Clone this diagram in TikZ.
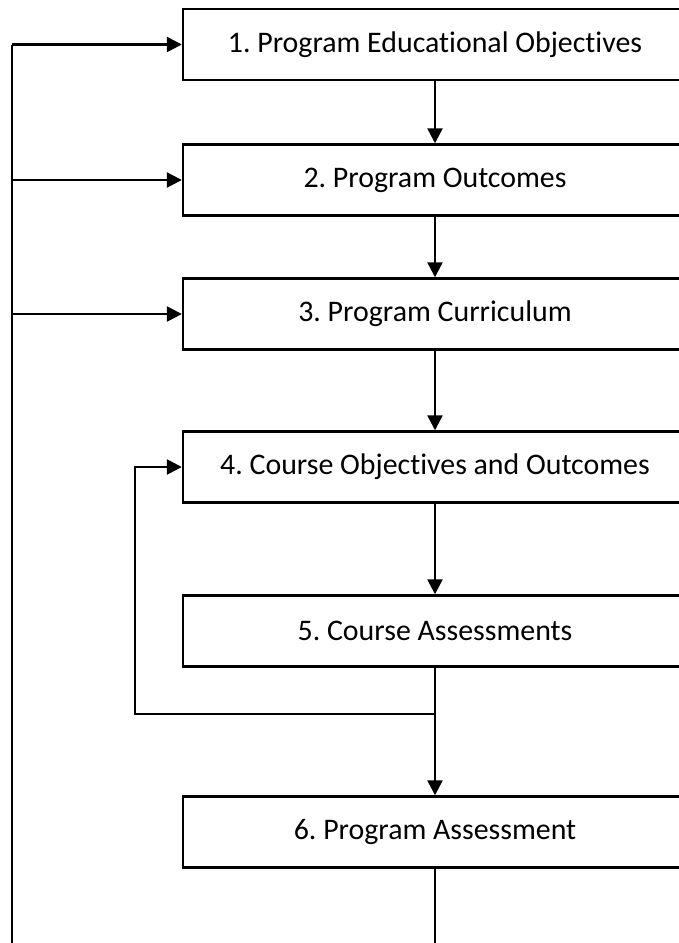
\documentclass[tikz,border=0pt]{standalone}
\usepackage{fontspec}
\setmainfont[Ligatures=NoCommon]{Carlito}
\usetikzlibrary{arrows.meta}
\frenchspacing

\begin{document}
\begin{tikzpicture}[x=0.02cm, y=-0.02cm, line width=1.4pt,
every node/.style = {shape=rectangle, draw, align=center,
    minimum width=10.08cm, minimum height=1.42cm, font=\fontsize{17}{20}\selectfont},
link/.style = {-{Triangle[length=8.5pt, width=8.5pt]}}]
\clip (0,0) rectangle (679,943);
\node (peo) at (435,44.5) {1. Program Educational Objectives};
\node (po) at (435,180) {2. Program Outcomes};
\node (pc) at (435,314) {3. Program Curriculum};
\node (coo) at (435,467) {4. Course Objectives and Outcomes};
\node (ca) at (435,631) {5. Course Assessments};
\node (pa) at (435,832) {6. Program Assessment};
\coordinate (loop) at (435,714);
\coordinate (turn) at (135,467);
\coordinate (back) at (435,990);
\coordinate (left) at (12,990);
\coordinate (in1) at (12,44.5);
\coordinate (in2) at (12,180);
\coordinate (in3) at (12,314);
% forward chain
\draw[link] (peo) -- (po);
\draw[link] (po) -- (pc);
\draw[link] (pc) -- (coo);
\draw[link] (coo) -- (ca);
\draw[link] (ca) -- (pa);
% course loop
\draw[link] (loop) -| (turn) -- (coo);
% program loop
\draw (pa) -- (back) -- (left) -- (in1);
\draw[link] (in1) -- (peo);
\draw[link] (in2) -- (po);
\draw[link] (in3) -- (pc);
\end{tikzpicture}
\end{document}
